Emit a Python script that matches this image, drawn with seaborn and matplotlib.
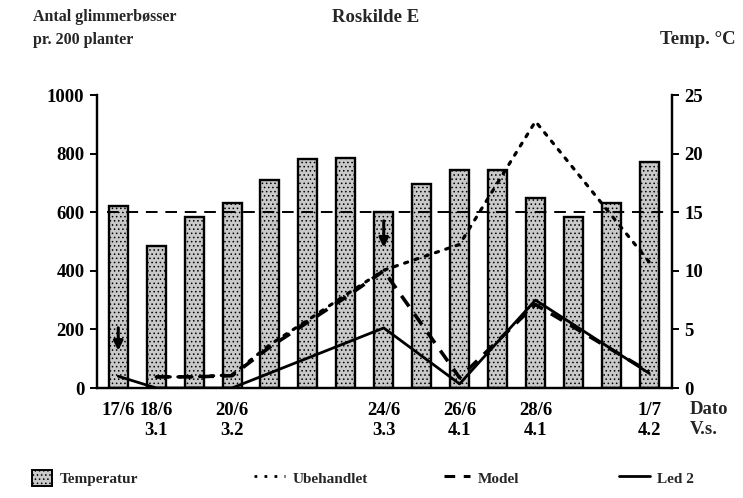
import matplotlib
matplotlib.use("Agg")
import matplotlib.pyplot as plt
import seaborn as sns
import pandas as pd
import numpy as np
from matplotlib.patches import Patch
from matplotlib.lines import Line2D

# ---------------- data ----------------
days = ["17/6", "18/6", "19/6", "20/6", "21/6", "22/6", "23/6", "24/6",
        "25/6", "26/6", "27/6", "28/6", "29/6", "30/6", "1/7"]
temperature = [15.5, 12.1, 14.6, 15.75, 17.75, 19.5, 19.65, 15.0,
               17.4, 18.6, 18.6, 16.2, 14.6, 15.75, 19.3]

ubeh_days = ["18/6", "19/6", "20/6", "21/6", "22/6", "23/6", "24/6", "26/6", "28/6", "1/7"]
ubehandlet = [38, 38, 45, 148, 232, 318, 402, 490, 910, 430]

model_days = ["18/6", "19/6", "20/6", "21/6", "22/6", "23/6", "24/6", "26/6", "28/6", "1/7"]
model = [38, 38, 42, 140, 225, 310, 400, 35, 285, 55]

led2_days = ["17/6", "18/6", "20/6", "24/6", "26/6", "28/6", "1/7"]
led2 = [40, 0, 0, 205, 14, 300, 50]

threshold = 600
spray_days = ["17/6", "24/6"]
spray_top = [215, 580]
spray_bottom = [118, 470]

label_days = ["17/6", "18/6", "20/6", "24/6", "26/6", "28/6", "1/7"]
label_vs = ["", "3.1", "3.2", "3.3", "4.1", "4.1", "4.2"]

left_ticks = [0, 200, 400, 600, 800, 1000]
right_ticks = [0, 5, 10, 15, 20, 25]

# ---------------- style ----------------
sns.set_theme(style="white")
plt.rcParams["font.family"] = ["Liberation Serif", "DejaVu Serif"]
plt.rcParams["font.weight"] = "bold"
plt.rcParams["font.size"] = 11
plt.rcParams["hatch.linewidth"] = 0.6

BAR_FACE = "#c9c9c9"
W, H = 743, 498
fig = plt.figure(figsize=(W / 100, H / 100), dpi=100)
fig.subplots_adjust(left=97 / W, right=672 / W, bottom=1 - 388 / H, top=1 - 95 / H)
ax = fig.add_subplot(111)
ax2 = ax.twinx()

pos = {d: i for i, d in enumerate(days)}

# bars (temperature, right axis)
df_bar = pd.DataFrame({"day": days, "temp": temperature})
sns.barplot(data=df_bar, x="day", y="temp", order=days, ax=ax2,
            color=BAR_FACE, width=0.5, saturation=1,
            edgecolor="black", linewidth=1.7)
for p in ax2.patches:
    p.set_hatch("....")
    p.set_edgecolor("black")
ax2.set_ylim(0, 25)
ax2.set_yticks(right_ticks)
ax2.set_ylabel("")
ax2.set_xlabel("")

# lines on left axis, above the bars
ax.set_zorder(ax2.get_zorder() + 1)
ax.patch.set_visible(False)

ax.hlines(threshold, -0.3, 14.4, colors="black", linestyles=(0, (6, 4)), linewidth=1.4)

df_u = pd.DataFrame({"x": [pos[d] for d in ubeh_days], "y": ubehandlet})
df_m = pd.DataFrame({"x": [pos[d] for d in model_days], "y": model})
df_l = pd.DataFrame({"x": [pos[d] for d in led2_days], "y": led2})
sns.lineplot(data=df_u, x="x", y="y", ax=ax, color="black", linewidth=2.3,
             linestyle=(0, (1, 2.4)), dash_capstyle="round")
sns.lineplot(data=df_m, x="x", y="y", ax=ax, color="black", linewidth=2.6,
             linestyle=(0, (3.6, 2.6)))
sns.lineplot(data=df_l, x="x", y="y", ax=ax, color="black", linewidth=2.0)

for d, t, b in zip(spray_days, spray_top, spray_bottom):
    ax.annotate("", xy=(pos[d], b), xytext=(pos[d], t),
                arrowprops=dict(arrowstyle="-|>,head_width=0.25,head_length=0.5",
                                color="black", lw=2.2))

ax.set_xlim(-0.56, 14.6)
ax.set_ylim(0, 1000)
ax.set_yticks(left_ticks)
ax.set_xlabel("")
ax.set_ylabel("")
ax.set_xticks(range(len(days)))
labs = []
for d in days:
    if d in label_days:
        v = label_vs[label_days.index(d)]
        labs.append(d + ("\n" + v if v else ""))
    else:
        labs.append("")
ax.set_xticklabels(labs, linespacing=1.25)

for a in (ax, ax2):
    for s in a.spines.values():
        s.set_linewidth(1.6)
        s.set_color("black")
    a.spines["top"].set_visible(False)
    a.grid(False)

TS = 13.5
ax.tick_params(axis="x", direction="out", length=5, width=1.4, pad=5, labelsize=TS, colors="black")
ax.tick_params(axis="y", direction="out", length=5, width=1.4, pad=4, labelsize=TS, colors="black")
ax2.tick_params(axis="y", direction="out", length=5, width=1.4, pad=4, labelsize=TS, colors="black")
ax2.tick_params(axis="x", length=0)
for lab in ax.get_xticklabels() + ax.get_yticklabels() + ax2.get_yticklabels():
    lab.set_fontweight("bold")

# texts
fig.text(33 / W, 1 - 17 / H, "Antal glimmerbøsser", ha="left", va="center", fontsize=11.5, fontweight="bold")
fig.text(33 / W, 1 - 40 / H, "pr. 200 planter", ha="left", va="center", fontsize=11.5, fontweight="bold")
fig.text(376 / W, 1 - 17 / H, "Roskilde E", ha="center", va="center", fontsize=13.5, fontweight="bold")
fig.text(736 / W, 1 - 40 / H, "Temp. °C", ha="right", va="center", fontsize=13.5, fontweight="bold")
fig.text(690 / W, 1 - 401 / H, "Dato\nV.s.", ha="left", va="top", fontsize=TS,
         fontweight="bold", linespacing=1.25)

# legend items
items = [
    (Patch(facecolor=BAR_FACE, edgecolor="black", hatch="....", linewidth=1.4), "Temperatur", 32, 1.3),
    (Line2D([], [], color="black", lw=2.0, linestyle=(0, (1, 2.6))), "Ubehandlet", 254, 2.0),
    (Line2D([], [], color="black", lw=2.2, linestyle=(0, (3.5, 2.8))), "Model", 444, 1.7),
    (Line2D([], [], color="black", lw=2.0), "Led 2", 619, 2.0),
]
for h, lab, x, hl in items:
    fig.legend([h], [lab], loc="center left", bbox_to_anchor=(x / W, 1 - 478 / H),
               frameon=False, handlelength=hl, handleheight=1.3, handletextpad=0.5,
               borderaxespad=0, borderpad=0, prop={"weight": "bold", "size": 11})

fig.savefig("out.png", dpi=100)
